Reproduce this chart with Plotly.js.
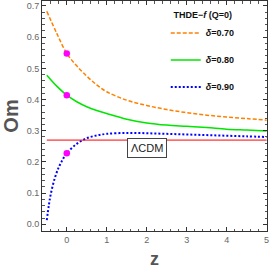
<!DOCTYPE html>
<html><head><meta charset="utf-8">
<script src="https://cdn.plot.ly/plotly-3.0.1.min.js"></script>
<style>html,body{margin:0;padding:0;background:#fff}#c{width:273px;height:273px}</style>
</head><body><div id="c"></div>
<script>
// Data
const zOrange = [-0.5, -0.25, 0, 0.25, 0.5, 0.75, 1, 1.5, 2, 2.5, 3, 3.5, 4, 4.5, 5];
const omOrange = [0.683, 0.612, 0.548, 0.508, 0.475, 0.447, 0.425, 0.398, 0.381, 0.368, 0.358, 0.350, 0.344, 0.339, 0.334];
const zGreen = [-0.5, -0.25, 0, 0.25, 0.5, 0.75, 1, 1.5, 2, 2.5, 3, 3.5, 4, 4.5, 5];
const omGreen = [0.478, 0.443, 0.414, 0.393, 0.377, 0.365, 0.355, 0.337, 0.325, 0.318, 0.314, 0.310, 0.305, 0.302, 0.299];
const zBlue = [-0.5, -0.45, -0.4, -0.3, -0.2, -0.1, 0, 0.25, 0.5, 0.75, 1, 1.5, 2, 2.5, 3, 3.5, 4, 4.5, 5];
const omBlue = [0.013, 0.06, 0.097, 0.148, 0.183, 0.208, 0.228, 0.258, 0.276, 0.285, 0.290, 0.293, 0.292, 0.290, 0.288, 0.286, 0.284, 0.282, 0.280];
const zLCDM = [-0.5, 5];
const omLCDM = [0.27, 0.27];
const zDots = [0, 0, 0];
const omDots = [0.548, 0.414, 0.228];
const seriesNames = ['<i>δ</i>=0.70', '<i>δ</i>=0.80', '<i>δ</i>=0.90'];
const legendTitle = 'THDE−<i>f</i> (Q=0)';
const lcdmLabel = 'ΛCDM';
const lcdmLabelPos = {z: 2.0, om: 0.244};

const traces = [
  {x: zOrange, y: omOrange, name: seriesNames[0], legendgroup: 'a', mode: 'lines', line: {color: '#FF8000', width: 1.5, dash: '4px,2px', shape: 'spline'}},
  {x: zGreen, y: omGreen, name: seriesNames[1], legendgroup: 'b', mode: 'lines', line: {color: '#00E600', width: 1.5, shape: 'spline'}},
  {x: zBlue, y: omBlue, name: seriesNames[2], legendgroup: 'c', mode: 'lines', line: {color: '#0000FF', width: 2, dash: '2px,2px', shape: 'spline'}},
  {x: zLCDM, y: omLCDM, mode: 'lines', showlegend: false, line: {color: '#FF0000', width: 1}},
  {x: zDots, y: omDots, mode: 'markers', showlegend: false, marker: {color: '#FF00FF', size: 6.5}}
];

const axisCommon = {
  showgrid: false, zeroline: false, showline: true, linecolor: '#333', linewidth: 1,
  mirror: 'allticks', ticks: 'inside', ticklen: 4, tickcolor: '#333', tickwidth: 1,
  tickfont: {family: 'Liberation Sans, Arial, sans-serif', size: 9, color: '#666'}
};

const layout = {
  width: 273, height: 273,
  margin: {l: 42, r: 6, t: 1, b: 42},
  paper_bgcolor: '#fff', plot_bgcolor: '#fff',
  font: {family: 'Liberation Sans, Arial, sans-serif'},
  xaxis: Object.assign({}, axisCommon, {
    range: [-0.62, 5.01], dtick: 1, tick0: 0,
    minor: {dtick: 0.2, ticks: 'inside', ticklen: 2.5, tickcolor: '#555'},
    title: {text: '<b>z</b>', font: {size: 18, color: '#555'}, standoff: 8}
  }),
  yaxis: Object.assign({}, axisCommon, {
    range: [-0.0215, 0.716], dtick: 0.1, tick0: 0, tickformat: '.1f',
    minor: {dtick: 0.02, ticks: 'inside', ticklen: 2.5, tickcolor: '#555'},
    title: {text: '<b>Om</b>', font: {size: 20, color: '#555'}, standoff: 6}
  }),
  showlegend: true,
  legend: {
    x: 0.55, y: 0.975, xanchor: 'left', yanchor: 'top',
    bgcolor: 'rgba(0,0,0,0)', borderwidth: 0,
    font: {size: 9, color: '#111', weight: 'bold'},
    title: {text: '<b>' + legendTitle + '</b>', side: 'top center', font: {size: 9, color: '#111'}},
    itemwidth: 30, tracegroupgap: 8
  },
  annotations: [{
    x: lcdmLabelPos.z, y: lcdmLabelPos.om, xref: 'x', yref: 'y', text: lcdmLabel, showarrow: false,
    font: {size: 11, color: '#222'}, bgcolor: '#fff', bordercolor: '#444', borderwidth: 1, borderpad: 3
  }]
};

Plotly.newPlot('c', traces, layout, {displayModeBar: false, staticPlot: true});
</script></body></html>
